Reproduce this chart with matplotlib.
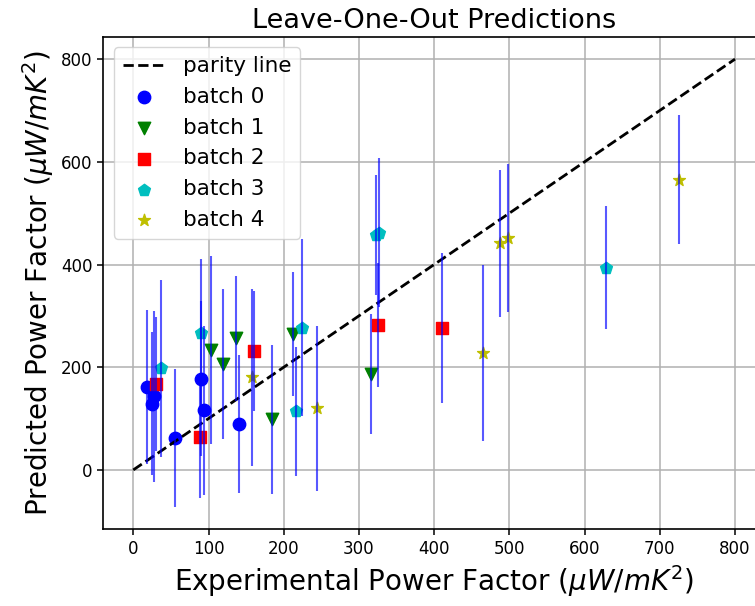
import matplotlib
matplotlib.use("Agg")
import matplotlib.pyplot as plt
import numpy as np

# experimental PF, predicted PF (LOO mean) and predicted std, per batch
b0_x = [17.8, 27.5, 24.4, 55.4, 89.6, 94.0, 140.0]
b0_y = [161, 143, 129, 62, 178, 116, 89]
b0_s = [150, 166, 139, 134, 151, 164, 134]

b1_x = [103.3, 118.9, 136.6, 184.9, 212.0, 315.6]
b1_y = [233, 206, 256, 99, 264, 187]
b1_s = [183, 146, 121, 145, 121, 117]

b2_x = [29.8, 88.7, 161.0, 325.0, 410.0]
b2_y = [167, 65, 232, 282, 276]
b2_s = [131, 119, 117, 121, 146]

b3_x = [37.0, 89.6, 216.4, 224.0, 322.3, 327.0, 628.2]
b3_y = [198, 267, 114, 277, 458, 462, 394]
b3_s = [172, 143, 126, 172, 117, 145, 120]

b4_x = [157.4, 243.9, 464.6, 487.6, 498.7, 725.3]
b4_y = [180, 120, 228, 441, 451, 565]
b4_s = [172, 161, 172, 143, 144, 126]

batches = [
    (b0_x, b0_y, b0_s, "b", "o"),
    (b1_x, b1_y, b1_s, "g", "v"),
    (b2_x, b2_y, b2_s, "r", "s"),
    (b3_x, b3_y, b3_s, "c", "p"),
    (b4_x, b4_y, b4_s, "y", "*"),
]

fig = plt.figure(figsize=(7.55, 6.06), dpi=100)
# axes run past the right edge (reference is cropped there)
ax = fig.add_axes([0.1367, 0.1266, 0.8767, 0.8128])

parity = np.linspace(0, 800, 10)
ax.plot(parity, parity, "k--", lw=2, label="parity line")

for i, (bx, by, bs, col, mk) in enumerate(batches):
    ax.scatter(bx, by, c=col, marker=mk, s=80, label=f"batch {i}")
for bx, by, bs, col, mk in batches:
    ax.errorbar(bx, by, yerr=bs, fmt="none", ecolor="b", elinewidth=1.5, alpha=0.65)

ax.set_xlim(-40, 840)
ax.set_title("Leave-One-Out Predictions", fontsize=19.5)
ax.set_xlabel("Experimental Power Factor ($\\mu W/mK^2$)", fontsize=20)
ax.set_ylabel("Predicted Power Factor ($\\mu W/mK^2$)", fontsize=20)
ax.set_xticks(np.arange(0, 801, 100))
ax.set_yticks(np.arange(0, 801, 200))
ax.tick_params(labelsize=12, length=4, width=1.1)
for sp in ax.spines.values():
    sp.set_linewidth(1.2)
ax.grid(True, lw=1.1)
ax.set_axisbelow(True)
ax.legend(loc="upper left", fontsize=15.5)

fig.savefig("out.png", dpi=100)
